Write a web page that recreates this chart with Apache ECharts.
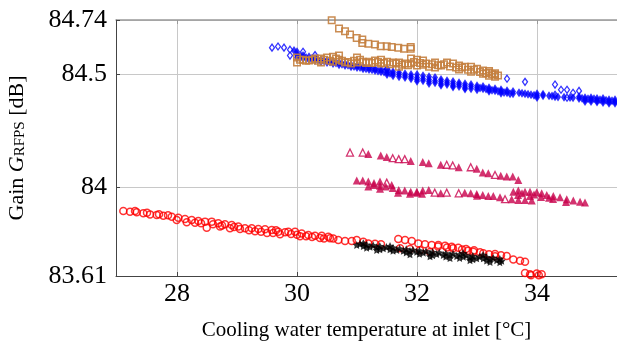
<!DOCTYPE html>
<html><head><meta charset="utf-8">
<script src="https://cdn.jsdelivr.net/npm/echarts@6/dist/echarts.min.js"></script>
<style>html,body{margin:0;padding:0;background:#fff}#c{width:617px;height:342px}</style>
</head><body><div id="c"></div>
<script>
const xTicks = [28, 30, 32, 34];
const yTicks = [83.61, 84, 84.5, 84.74];

const blueFilled = [
[29.95,84.605],[30.0,84.60],[30.0,84.587],[30.0,84.574],[30.1,84.583],[30.1,84.570],[30.2,84.578],[30.2,84.565],
[30.3,84.570],[30.3,84.561],[30.4,84.565],[30.4,84.556],[30.5,84.561],[30.5,84.552],[30.6,84.556],[30.6,84.548],
[30.7,84.552],[30.7,84.543],[30.8,84.548],[30.8,84.539],[30.9,84.543],[30.9,84.534],[31.0,84.539],[31.0,84.530],
[31.1,84.534],[31.1,84.525],[31.2,84.530],[31.2,84.521],[31.3,84.525],[31.3,84.517],[31.4,84.521],[31.4,84.512],
[31.5,84.521],[31.5,84.508],[31.6,84.512],[31.6,84.503],[31.6,84.494],[31.7,84.508],[31.7,84.499],[31.7,84.490],
[31.8,84.503],[31.8,84.494],[31.8,84.486],[31.9,84.499],[31.9,84.490],[31.9,84.481],[32.0,84.499],[32.0,84.486],[32.0,84.477],
[32.1,84.494],[32.1,84.481],[32.1,84.472],[32.2,84.490],[32.2,84.477],[32.2,84.468],[32.3,84.486],[32.3,84.472],[32.3,84.463],
[32.4,84.477],[32.4,84.468],[32.4,84.459],[32.5,84.472],[32.5,84.463],[32.5,84.455],[32.6,84.468],[32.6,84.459],[32.6,84.450],
[32.7,84.463],[32.7,84.455],[32.7,84.446],[32.8,84.459],[32.8,84.450],[32.8,84.441],[32.9,84.455],[32.9,84.446],[32.9,84.437],
[33.0,84.450],[33.0,84.441],[33.1,84.446],[33.1,84.437],[33.2,84.441],[33.2,84.432],[33.3,84.437],[33.3,84.428],
[33.4,84.432],[33.4,84.424],[33.5,84.428],[33.5,84.419],[33.6,84.424],[33.6,84.415],[33.7,84.419],[33.8,84.415],
[33.9,84.410],[34.0,84.415],[34.0,84.406],[34.1,84.406],[34.2,84.406],[34.3,84.401],[34.6,84.397],[34.7,84.393],[34.7,84.401],
[34.8,84.397],[34.8,84.388],[34.9,84.397],[34.9,84.388],[35.0,84.393],[35.0,84.384],[35.1,84.393],[35.1,84.384],
[35.2,84.388],[35.2,84.379],[35.3,84.388],[35.3,84.379],
[31.5,84.499],[32.0,84.470],[32.2,84.460],[32.4,84.452],[32.6,84.444],[32.8,84.435],[33.0,84.432],[33.2,84.425],[33.4,84.417],
[34.0,84.398],[34.1,84.412],[34.8,84.380],[34.9,84.380],[35.0,84.378],[35.1,84.376],[35.2,84.373],[35.3,84.373],
[34.85,84.392],[34.95,84.392],[35.05,84.388],[35.15,84.386],[35.25,84.384],[34.75,84.395],[33.75,84.417],[33.85,84.412],
[33.95,84.408],[34.25,84.404],[34.35,84.400],[34.45,84.399],[34.55,84.398],[30.05,84.58],[30.15,84.575],[30.25,84.57],
[30.35,84.565],[30.45,84.56],[30.55,84.555],[30.65,84.55],[30.75,84.545],[30.85,84.54],[30.95,84.535],[31.05,84.53],
[31.15,84.525],[31.25,84.52],[31.35,84.515],[31.45,84.51],[31.55,84.505],[33.05,84.44],[33.15,84.435],[33.25,84.43],
[33.35,84.425],[33.45,84.42],[33.55,84.415]
];
const blueOpen = [
[29.583,84.618],[29.683,84.623],[29.783,84.618],[29.883,84.609],[29.883,84.583],[30.1,84.60],[30.3,84.585],[31.5,84.525],
[33.5,84.481],[33.8,84.467],[34.3,84.455],[34.3,84.410],[34.4,84.432],[34.5,84.432],[34.5,84.397],[34.6,84.419],[34.7,84.427]
];
const brownSquares = [
[30.578,84.739],[30.70,84.702],[30.80,84.690],[30.883,84.676],[30.995,84.661],[31.088,84.654],[31.088,84.639],[31.188,84.635],
[31.30,84.632],[31.395,84.624],[31.495,84.624],[31.578,84.621],[31.688,84.617],[31.783,84.613],[31.895,84.613],[31.895,84.621],
[30.0,84.574],[30.0,84.552],[30.1,84.565],[30.2,84.561],[30.3,84.570],[30.4,84.570],[30.4,84.552],[30.5,84.574],[30.6,84.578],
[30.6,84.556],[30.7,84.565],[30.7,84.583],[30.8,84.552],[30.9,84.548],[31.0,84.552],[31.0,84.574],[31.1,84.556],[31.2,84.556],
[31.3,84.561],[31.4,84.565],[31.4,84.548],[31.5,84.556],[31.6,84.552],[31.7,84.552],[31.7,84.534],[31.8,84.548],[31.9,84.548],
[31.9,84.570],[32.0,84.565],[32.0,84.539],[32.1,84.543],[32.1,84.561],[32.2,84.534],[32.3,84.530],[32.3,84.552],[32.4,84.539],
[32.5,84.552],[32.6,84.548],[32.7,84.539],[32.7,84.521],[32.8,84.534],[32.9,84.534],[32.9,84.512],[33.0,84.525],[33.1,84.517],
[33.1,84.503],[33.2,84.508],[33.2,84.494],[33.3,84.499],[33.3,84.490],
[30.05,84.565],[30.15,84.56],[30.25,84.565],[30.35,84.56],[30.45,84.565],[30.55,84.56],[30.65,84.57],[30.75,84.56],[30.85,84.555],
[30.95,84.56],[31.05,84.565],[31.15,84.55],[31.25,84.55],[31.35,84.555],[31.45,84.55],[31.55,84.545],[31.65,84.548],[31.75,84.543],
[31.85,84.54],[31.95,84.555],[32.05,84.55],[32.15,84.548],[32.25,84.545],[32.35,84.54],[32.45,84.545],[32.55,84.535],[32.65,84.53],
[32.75,84.53],[32.85,84.52],[32.95,84.52],[33.05,84.51],[33.15,84.505],[33.25,84.50],[33.35,84.495],[33.3,84.505],[33.2,84.515]
];
const triFilled = [
[31.188,84.149],[31.395,84.142],[31.495,84.135],[31.895,84.118],[32.095,84.113],[32.195,84.108],[32.395,84.101],[32.695,84.090],
[32.995,84.083],[33.095,84.067],[33.188,84.063],[33.395,84.052],[33.495,84.049],[33.595,84.049],[33.688,84.034],
[30.995,84.031],[31.095,84.031],[31.188,84.027],[31.188,84.005],[31.283,84.020],[31.383,84.027],[31.383,84.008],[31.383,83.995],
[31.578,84.012],[31.595,83.998],[31.695,83.990],[31.683,83.977],[31.795,83.987],[31.895,83.982],[31.883,83.973],[31.995,83.982],
[32.095,83.987],[32.083,83.973],[32.195,83.990],[32.395,83.975],[32.795,83.978],[32.895,83.975],[32.995,83.972],[33.095,83.968],
[33.188,83.963],[33.272,83.963],[33.383,83.958],[33.578,83.949],[33.688,83.946],[33.80,83.946],[33.912,83.943],
[33.605,83.982],[33.688,83.987],[33.683,83.968],[33.80,83.982],[33.883,83.982],[33.883,83.963],[33.995,83.980],[34.078,83.975],
[34.067,83.959],[34.162,83.968],[34.272,83.963],[34.267,83.950],[34.383,83.958],[34.495,83.949],[34.483,83.937],[34.605,83.943],
[34.717,83.938],[34.80,83.934],[31.28,84.012],[31.48,84.005],[32.0,83.978],[33.0,83.964],[33.75,83.975],[33.95,83.97],[34.2,83.955]
];
const triOpen = [
[30.883,84.155],[31.095,84.155],[31.595,84.130],[31.695,84.126],[31.795,84.126],[32.495,84.101],[32.595,84.098],[32.895,84.090],
[33.30,84.056],[31.495,84.022],[32.295,83.978],[32.495,83.978],[32.695,83.975],[33.467,83.949]
];
const redCircles = [
[26.967,83.9015],[27.105,83.897],[27.217,83.894],[27.328,83.891],[27.438,83.887],[27.55,83.882],[27.662,83.879],[27.772,83.876],
[27.912,83.872],[28.022,83.867],[28.133,83.862],[28.245,83.857],[28.355,83.853],[28.467,83.850],[28.578,83.850],[28.688,83.843],
[28.80,83.838],[28.912,83.835],[29.022,83.828],[29.133,83.821],[29.245,83.821],[29.355,83.817],[29.467,83.816],[29.578,83.813],
[29.688,83.805],[29.80,83.803],[29.855,83.805],[29.967,83.805],[30.078,83.798],[30.188,83.791],[30.30,83.788],[30.412,83.788],
[30.522,83.783],[30.605,83.776],[30.688,83.769],[30.80,83.764],[30.912,83.764],[30.995,83.769],[31.105,83.761],[31.188,83.754],
[27.995,83.857],[28.162,83.847],[28.495,83.823],[28.717,83.828],[28.883,83.821],[29.717,83.794],[30.05,83.786],[30.383,83.778],
[31.688,83.773],[31.80,83.769],[31.912,83.764],[32.022,83.754],[32.133,83.750],[32.245,83.747],[32.355,83.747],[32.467,83.743],
[32.578,83.739],[32.688,83.735],[32.817,83.729],[32.938,83.717],[33.105,83.710],[33.30,83.707],[33.495,83.698],[33.605,83.683],
[33.717,83.677],[33.80,83.673],[31.717,83.733],[31.883,83.729],[32.05,83.724],[32.217,83.716],
[33.80,83.623],[33.883,83.618],[33.995,83.621],[34.078,83.618],
[28.3,83.845],[28.4,83.843],[28.6,83.838],[28.75,83.833],[28.95,83.826],[29.05,83.818],[29.2,83.812],[29.3,83.808],[29.4,83.805],
[29.5,83.80],[29.6,83.80],[29.65,83.812],[29.9,83.795],[30.0,83.792],[30.15,83.785],[30.25,83.782],[30.45,83.776],[30.55,83.777],
[27.3,83.897],[27.5,83.889],[27.7,83.883],[27.85,83.878],[32.35,83.74],[32.5,83.736],[32.6,83.733],[32.75,83.727],[32.85,83.722],
[32.95,83.724],[33.05,83.715],[33.2,83.706],[33.4,83.702],[33.3,83.697],[31.3,83.752],[31.4,83.75],[33.9,83.613],[34.03,83.613]
];
const blackStars = [
[30.995,83.747],[31.105,83.742],[31.217,83.739],[31.328,83.737],[31.438,83.732],[31.55,83.728],[31.662,83.725],[31.772,83.721],
[31.883,83.720],[31.995,83.717],[32.105,83.713],[32.217,83.710],[32.328,83.707],[32.438,83.703],[32.55,83.703],[32.662,83.698],
[32.772,83.695],[32.883,83.692],[32.995,83.688],[33.105,83.688],[33.217,83.683],[33.328,83.680],[33.412,83.677],
[31.105,83.755],[31.328,83.725],[31.55,83.742],[31.883,83.706],[32.217,83.697],[32.55,83.689],[32.883,83.680],[33.217,83.672],
[32.767,83.711],[33.1,83.703],
[31.05,83.752],[31.16,83.748],[31.27,83.745],[31.38,83.742],[31.49,83.738],[31.6,83.735],[31.71,83.731],[31.82,83.728],
[31.93,83.725],[32.04,83.722],[32.15,83.719],[32.26,83.716],[32.37,83.713],[32.48,83.710],[32.6,83.708],[32.71,83.705],
[32.82,83.701],[32.93,83.698],[33.04,83.695],[33.16,83.693],[33.27,83.690],[33.38,83.686],[31.16,83.735],[31.38,83.728],
[31.6,83.722],[31.82,83.714],[32.04,83.708],[32.26,83.702],[32.48,83.696],[32.71,83.690],[32.93,83.684],[33.16,83.678],[33.38,83.671]
];

const FONT = '"Liberation Serif","DejaVu Serif",serif';
const BLUE = '#0000ff', BROWN = '#c4803f', CRIM = '#c8004b', RED = '#ff0000';
const STAR = 'path://M0,-10 L2.9,-4 L9.5,-3.1 L4.7,1.5 L5.9,8.1 L0,5 L-5.9,8.1 L-4.7,1.5 L-9.5,-3.1 L-2.9,-4 Z';

const chart = echarts.init(document.getElementById('c'), null, {renderer: 'canvas'});
chart.setOption({
  animation: false,
  backgroundColor: '#fff',
  grid: {left: 116, top: 20, right: 0, bottom: 66, containLabel: false, outerBoundsMode: 'none'},
  xAxis: [{
    type: 'value', min: 26.983, max: 35.333,
    name: 'Cooling water temperature at inlet [°C]', nameLocation: 'middle', nameGap: 44,
    nameTextStyle: {fontFamily: FONT, fontSize: 21, color: '#000'},
    axisLine: {show: true, lineStyle: {color: '#444', width: 1}},
    axisTick: {show: true, inside: true, length: 4, customValues: xTicks, lineStyle: {color: '#444'}},
    axisLabel: {customValues: xTicks, fontFamily: FONT, fontSize: 26, color: '#000', margin: 5},
    splitLine: {show: true, lineStyle: {color: '#c8c8c8', width: 1}}
  }, {
    type: 'value', position: 'top', min: 26.983, max: 35.333,
    axisLine: {show: true, lineStyle: {color: '#999', width: 1.5}},
    axisTick: {show: true, inside: true, length: 4, customValues: xTicks, lineStyle: {color: '#999'}},
    axisLabel: {show: false}, splitLine: {show: false}
  }],
  yAxis: [{
    type: 'value', min: 83.61, max: 84.74,
    name: '{a|Gain }{g|G}{s|RFPS}{a| [dB]}', nameLocation: 'middle', nameGap: 88, nameRotate: 90,
    nameTextStyle: {fontFamily: FONT, fontSize: 22, color: '#000',
      rich: {a: {fontFamily: FONT, fontSize: 22, color: '#000'},
             g: {fontFamily: FONT, fontSize: 22, fontStyle: 'italic', color: '#000'},
             s: {fontFamily: FONT, fontSize: 15, color: '#000', padding: [7, 0, 0, 0]}}},
    axisLine: {show: true, lineStyle: {color: '#444', width: 1}},
    axisTick: {show: true, inside: true, length: 4, customValues: yTicks, lineStyle: {color: '#444'}},
    axisLabel: {customValues: yTicks, fontFamily: FONT, fontSize: 26, color: '#000', margin: 9},
    splitLine: {show: true, lineStyle: {color: '#c8c8c8', width: 1}}
  }],
  series: [
    {type: 'scatter', data: blueOpen, symbol: 'diamond', symbolSize: [5, 7],
     itemStyle: {color: '#fff', borderColor: BLUE, borderWidth: 1.3}},
    {type: 'scatter', data: blueFilled, symbol: 'diamond', symbolSize: [6, 9],
     itemStyle: {color: BLUE}},
    {type: 'scatter', data: brownSquares, symbol: 'rect', symbolSize: 6.5,
     itemStyle: {color: 'rgba(255,255,255,0)', borderColor: BROWN, borderWidth: 1.5, opacity: 0.9}},
    {type: 'scatter', data: triOpen, symbol: 'triangle', symbolSize: 7,
     itemStyle: {color: '#fff', borderColor: CRIM, borderWidth: 1.3}},
    {type: 'scatter', data: triFilled, symbol: 'triangle', symbolSize: 8,
     itemStyle: {color: CRIM}},
    {type: 'scatter', data: redCircles, symbol: 'circle', symbolSize: 7,
     itemStyle: {color: 'rgba(255,255,255,0)', borderColor: RED, borderWidth: 1.5}},
    {type: 'scatter', data: blackStars, symbol: STAR, symbolSize: 8,
     itemStyle: {color: '#000'}}
  ]
});
</script>
</body></html>
